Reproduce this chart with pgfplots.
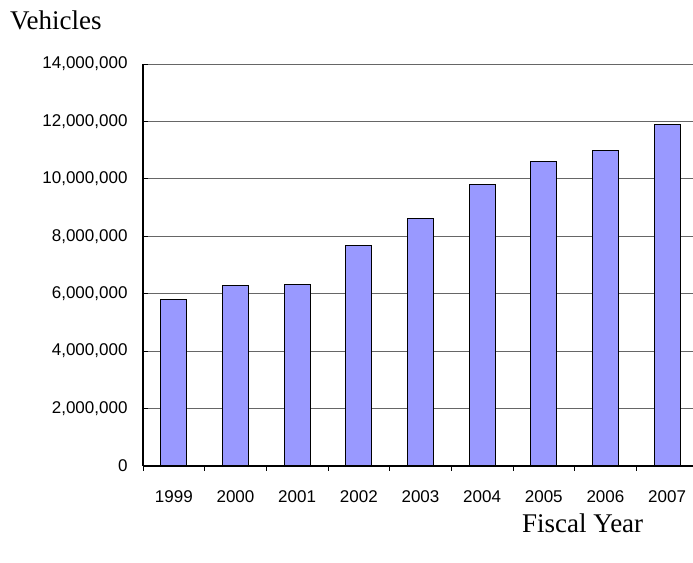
\documentclass[border=0pt]{standalone}
\usepackage{pgfplots}
\pgfplotsset{compat=1.18}
\usepackage{fontspec}
\setmainfont{Liberation Serif}
\newfontfamily\arial{Liberation Sans}
\definecolor{barblue}{HTML}{9999FF}
\begin{document}
\begin{tikzpicture}[x=1bp,y=1bp]
\path[use as bounding box] (-143,-97) rectangle (550,466);
\begin{axis}[
  at={(0,0)}, anchor=south west,
  scale only axis, width=550bp, height=402bp,
  xmin=-0.5, xmax=8.42, ymin=0, ymax=14000000,
  axis y line*=left,
  axis x line*=bottom,
  axis line style={black, line width=1.1bp},
  xtick align=inside, ytick align=inside,
  ytick={0,2000000,4000000,6000000,8000000,10000000,12000000,14000000},
  scaled y ticks=false,
  /pgf/number format/fixed,
  /pgf/number format/precision=0,
  /pgf/number format/1000 sep={,},
  /pgf/number format/assume math mode=true,
  yticklabel style={xshift=-12bp},
  ymajorgrids,
  grid style={black!60, line width=0.9bp},
  xtick={-0.5,0.5,1.5,2.5,3.5,4.5,5.5,6.5,7.5},
  xticklabels={},
  extra x ticks={0,1,2,3,4,5,6,7,8},
  extra x tick labels={1999,2000,2001,2002,2003,2004,2005,2006,2007},
  extra x tick style={major tick length=0pt, xticklabel style={yshift=-21bp}},
  major tick length=5bp,
  tick style={black, line width=0.9bp},
  tick label style={font=\arial\fontsize{17bp}{20bp}\selectfont, text=black},
  ybar, bar width=26bp,
]
\addplot[fill=barblue, draw=black, line width=1bp] coordinates {
 (0,5810000) (1,6290000) (2,6330000) (3,7690000) (4,8630000)
 (5,9810000) (6,10590000) (7,10990000) (8,11880000)
};
\end{axis}
\node[anchor=base west, inner sep=0, font=\fontsize{27bp}{32bp}\selectfont] at (-133,436) {Vehicles};
\node[anchor=base west, inner sep=0, font=\fontsize{27bp}{32bp}\selectfont] at (379,-67) {Fiscal Year};
\end{tikzpicture}
\end{document}
